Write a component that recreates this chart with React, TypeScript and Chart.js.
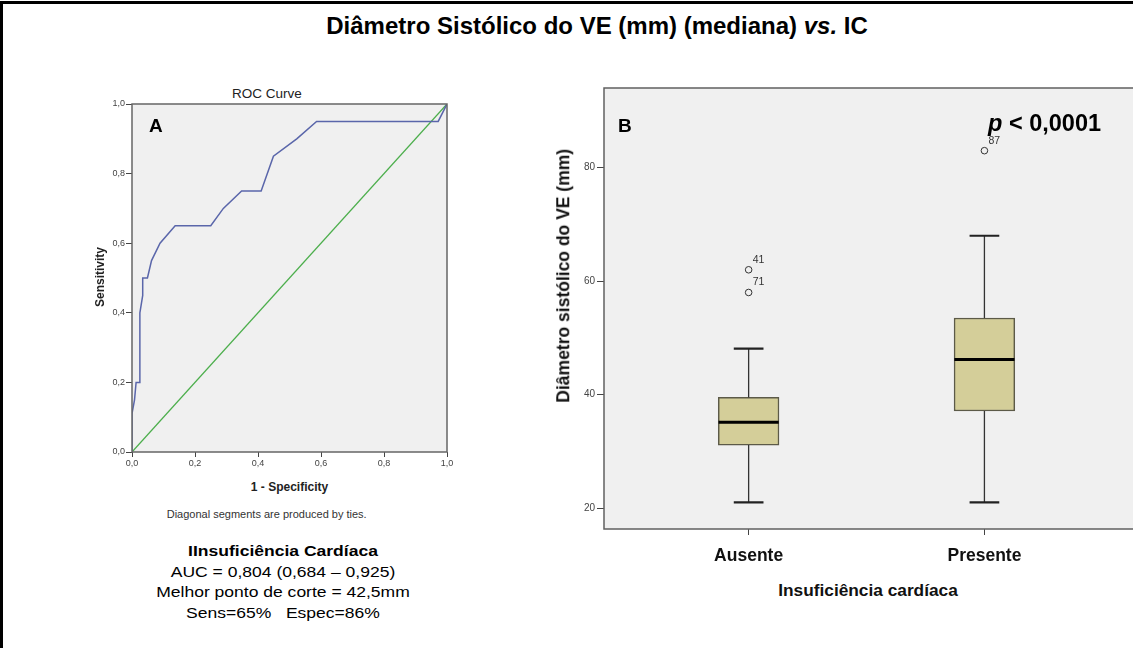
import React, { useEffect, useRef } from 'react';
import { Chart, registerables } from 'chart.js';

Chart.register(...registerables);

// ---------- Data: panel A (ROC curve) ----------
const rocFpr = [0, 0, 0.008, 0.013, 0.025, 0.025, 0.034, 0.034, 0.049, 0.062, 0.089, 0.137, 0.25, 0.29, 0.348, 0.41, 0.449, 0.523, 0.586, 0.972, 1];
const rocTpr = [0, 0.11, 0.15, 0.2, 0.2, 0.4, 0.45, 0.5, 0.5, 0.55, 0.6, 0.65, 0.65, 0.7, 0.75, 0.75, 0.85, 0.9, 0.95, 0.95, 1];
const refFpr = [0, 1];
const refTpr = [0, 1];
const rocTicks = [0, 0.2, 0.4, 0.6, 0.8, 1];

// ---------- Data: panel B (box plot) ----------
const groups = ['Ausente', 'Presente'];
const groupPos = [1, 2];
const whiskerLow = [21, 21];
const q1 = [31.1, 37.1];
const median = [35.1, 46.2];
const q3 = [39.5, 53.5];
const whiskerHigh = [48.1, 68];
const outlierValues = [[62, 58], [83]];
const outlierIds = [['41', '71'], ['87']];
const boxTicks = [20, 40, 60, 80];

const FONT = '"Liberation Sans", Arial, Helvetica, sans-serif';

const framePlugin = (id: string, color: string, width: number) => ({
  id,
  beforeDraw(chart: any) {
    const { ctx, chartArea: a } = chart;
    ctx.save();
    ctx.fillStyle = '#f0f0f0';
    ctx.fillRect(a.left, a.top, a.right - a.left, a.bottom - a.top);
    ctx.restore();
  },
  afterDraw(chart: any) {
    const { ctx, chartArea: a } = chart;
    ctx.save();
    ctx.strokeStyle = color;
    ctx.lineWidth = width;
    ctx.strokeRect(a.left, a.top, a.right - a.left, a.bottom - a.top);
    ctx.restore();
  },
});

const fmtComma = (v: any) => Number(v).toFixed(1).replace('.', ',');

function RocChart() {
  const ref = useRef<HTMLCanvasElement | null>(null);
  useEffect(() => {
    if (!ref.current) return;
    const chart = new Chart(ref.current, {
      type: 'line',
      data: {
        datasets: [
          {
            data: rocFpr.map((x, i) => ({ x, y: rocTpr[i] })),
            borderColor: '#5a66aa',
            borderWidth: 1.5,
            pointRadius: 0,
            tension: 0,
          },
          {
            data: refFpr.map((x, i) => ({ x, y: refTpr[i] })),
            borderColor: '#4cae4c',
            borderWidth: 1.3,
            pointRadius: 0,
            tension: 0,
          },
        ],
      },
      options: {
        animation: false,
        responsive: false,
        devicePixelRatio: 1,
        events: [],
        layout: { padding: { top: 9, right: 13, left: 0, bottom: 0 } },
        plugins: { legend: { display: false }, tooltip: { enabled: false } },
        scales: {
          x: {
            type: 'linear',
            min: 0,
            max: 1,
            afterBuildTicks: (s: any) => { s.ticks = rocTicks.map((v) => ({ value: v })); },
            afterFit: (s: any) => { s.height = 28; },
            grid: { drawOnChartArea: false, tickLength: 5, color: '#444' },
            border: { display: false },
            ticks: { padding: 1, maxRotation: 0, color: '#444', font: { size: 9, family: FONT }, callback: fmtComma },
          },
          y: {
            type: 'linear',
            min: 0,
            max: 1,
            afterBuildTicks: (s: any) => { s.ticks = rocTicks.map((v) => ({ value: v })); },
            afterFit: (s: any) => { s.width = 42; },
            grid: { drawOnChartArea: false, tickLength: 6, color: '#444' },
            border: { display: false },
            ticks: { padding: 1, color: '#444', font: { size: 9, family: FONT }, callback: fmtComma },
          },
        },
      } as any,
      plugins: [framePlugin('rocFrame', '#666', 1.5)],
    });
    return () => chart.destroy();
  }, []);
  return (
    <canvas
      ref={ref}
      width={370}
      height={385}
      style={{ position: 'absolute', left: 90, top: 95, width: 370, height: 385 }}
    />
  );
}

function BoxChart() {
  const ref = useRef<HTMLCanvasElement | null>(null);
  useEffect(() => {
    if (!ref.current) return;
    const boxHalf = 0.1275;
    const capHalf = 0.063;
    const boxData = groups.map((_, i) => ({ x: groupPos[i], y: [q1[i], q3[i]] }));
    const whiskerData: any[] = [];
    const capData: any[] = [];
    const medianData: any[] = [];
    groups.forEach((_, i) => {
      const x = groupPos[i];
      whiskerData.push({ x, y: whiskerLow[i] }, { x, y: q1[i] }, { x, y: null }, { x, y: q3[i] }, { x, y: whiskerHigh[i] }, { x, y: null });
      capData.push(
        { x: x - capHalf, y: whiskerLow[i] }, { x: x + capHalf, y: whiskerLow[i] }, { x, y: null },
        { x: x - capHalf, y: whiskerHigh[i] }, { x: x + capHalf, y: whiskerHigh[i] }, { x, y: null },
      );
      medianData.push({ x: x - boxHalf, y: median[i] }, { x: x + boxHalf, y: median[i] }, { x, y: null });
    });
    const outlierData = outlierValues.flatMap((vals, i) => vals.map((v) => ({ x: groupPos[i], y: v })));
    const outlierLabels = outlierIds.flat();

    const labelPlugin = {
      id: 'outlierLabels',
      afterDatasetsDraw(chart: any) {
        const meta = chart.getDatasetMeta(1);
        const ctx = chart.ctx;
        ctx.save();
        ctx.fillStyle = '#333';
        ctx.font = `10.5px ${FONT}`;
        ctx.textBaseline = 'alphabetic';
        ctx.textAlign = 'left';
        meta.data.forEach((pt: any, i: number) => {
          ctx.fillText(outlierLabels[i], pt.x + 4, pt.y - 7);
        });
        ctx.restore();
      },
    };

    const chart = new Chart(ref.current, {
      type: 'bar',
      data: {
        datasets: [
          {
            type: 'line',
            data: medianData,
            borderColor: '#000',
            borderWidth: 3,
            pointRadius: 0,
            spanGaps: false,
            order: 0,
          },
          {
            type: 'scatter',
            data: outlierData,
            pointRadius: 3.3,
            pointBackgroundColor: '#f0f0f0',
            pointBorderColor: '#333',
            pointBorderWidth: 1,
            order: 1,
          },
          {
            type: 'line',
            data: capData,
            borderColor: '#222',
            borderWidth: 2.2,
            pointRadius: 0,
            spanGaps: false,
            order: 2,
          },
          {
            type: 'line',
            data: whiskerData,
            borderColor: '#333',
            borderWidth: 1.3,
            pointRadius: 0,
            spanGaps: false,
            order: 3,
          },
          {
            type: 'bar',
            data: boxData,
            backgroundColor: '#d4ce99',
            borderColor: '#5c5a48',
            borderWidth: 1.5,
            borderSkipped: false,
            barThickness: 60.7,
            order: 4,
          },
        ],
      },
      options: {
        animation: false,
        responsive: false,
        devicePixelRatio: 1,
        events: [],
        layout: { padding: { top: 7, right: 0, left: 0, bottom: 0 } },
        plugins: { legend: { display: false }, tooltip: { enabled: false } },
        scales: {
          x: {
            type: 'linear',
            min: 0.3866,
            max: 2.681,
            offset: false,
            afterBuildTicks: (s: any) => { s.ticks = groupPos.map((v) => ({ value: v })); },
            afterFit: (s: any) => { s.height = 46; },
            grid: { drawOnChartArea: false, tickLength: 6, color: '#444', offset: false },
            border: { display: false },
            ticks: {
              padding: 11,
              maxRotation: 0,
              autoSkip: false,
              color: '#111',
              font: { size: 17.5, weight: 'bold', family: FONT },
              callback: (v: any) => groups[groupPos.indexOf(Number(v))] ?? '',
            },
          },
          y: {
            type: 'linear',
            min: 16.3,
            max: 94.05,
            afterBuildTicks: (s: any) => { s.ticks = boxTicks.map((v) => ({ value: v })); },
            afterFit: (s: any) => { s.width = 64; },
            grid: { drawOnChartArea: false, tickLength: 7, color: '#444' },
            border: { display: false },
            ticks: { padding: 2, color: '#444', font: { size: 10, family: FONT } },
          },
        },
      } as any,
      plugins: [framePlugin('boxFrame', '#606060', 1.5), labelPlugin],
    });
    return () => chart.destroy();
  }, []);
  return (
    <canvas
      ref={ref}
      width={610}
      height={495}
      style={{ position: 'absolute', left: 540, top: 80, width: 610, height: 495 }}
    />
  );
}

const abs = (extra: React.CSSProperties): React.CSSProperties => ({
  position: 'absolute',
  whiteSpace: 'nowrap',
  fontFamily: FONT,
  color: '#000',
  ...extra,
});

function Centered({ cx, top, size, bold, color, scaleX, children }: any) {
  return (
    <div
      style={abs({
        left: cx - 300,
        top,
        width: 600,
        textAlign: 'center',
        fontSize: size,
        lineHeight: `${size}px`,
        fontWeight: bold ? 'bold' : 'normal',
        color: color || '#000',
        transform: scaleX ? `scaleX(${scaleX})` : undefined,
        transformOrigin: 'center',
      })}
    >
      {children}
    </div>
  );
}

export default function App() {
  return (
    <div
      style={{
        position: 'fixed',
        left: 0,
        top: 0,
        width: 1133,
        height: 648,
        overflow: 'hidden',
        background: '#fff',
        fontFamily: FONT,
      }}
    >
      {/* outer frame (top and left edges visible) */}
      <div style={{ position: 'absolute', left: 0, top: 1, width: 1300, height: 800, borderTop: '3px solid #000', borderLeft: '3px solid #000' }} />

      {/* main title */}
      <Centered cx={597} top={14} size={24} bold>
        Diâmetro Sistólico do VE (mm) (mediana) <i>vs.</i> IC
      </Centered>

      {/* Panel A */}
      <Centered cx={267} top={87} size={13.5} color="#222">ROC Curve</Centered>
      <RocChart />
      <div style={abs({ left: 149, top: 116, fontSize: 19, lineHeight: '19px', fontWeight: 'bold' })}>A</div>
      <div
        style={abs({
          left: 0,
          top: 277 - 6,
          width: 200,
          textAlign: 'center',
          fontSize: 12,
          lineHeight: '12px',
          fontWeight: 'bold',
          color: '#222',
          transform: 'rotate(-90deg)',
          transformOrigin: 'center',
        })}
      >
        Sensitivity
      </div>
      <Centered cx={289.5} top={481} size={12} bold color="#222">1 - Specificity</Centered>
      <Centered cx={266.7} top={509} size={11} color="#333">Diagonal segments are produced by ties.</Centered>

      <Centered cx={283} top={543} size={15.5} bold scaleX={1.13}>IInsuficiência Cardíaca</Centered>
      <Centered cx={283} top={564} size={15.5} scaleX={1.13}>AUC = 0,804 (0,684 – 0,925)</Centered>
      <Centered cx={283} top={584} size={15.5} scaleX={1.13}>Melhor ponto de corte = 42,5mm</Centered>
      <Centered cx={283} top={605} size={15.5} scaleX={1.13}>Sens=65%&nbsp;&nbsp; Espec=86%</Centered>

      {/* Panel B */}
      <BoxChart />
      <div style={abs({ left: 618, top: 116, fontSize: 19, lineHeight: '19px', fontWeight: 'bold' })}>B</div>
      <div style={abs({ left: 988, top: 112, fontSize: 23.5, lineHeight: '23.5px', fontWeight: 'bold' })}>
        <i>p</i> &lt; 0,0001
      </div>
      <div
        style={abs({
          left: 563.5 - 200,
          top: 275.5 - 8.75,
          width: 400,
          textAlign: 'center',
          fontSize: 17.5,
          lineHeight: '17.5px',
          fontWeight: 'bold',
          color: '#111',
          transform: 'rotate(-90deg)',
          transformOrigin: 'center',
        })}
      >
        Diâmetro sistólico do VE (mm)
      </div>
      <Centered cx={868} top={582} size={17.3} bold color="#111">Insuficiência cardíaca</Centered>
    </div>
  );
}
